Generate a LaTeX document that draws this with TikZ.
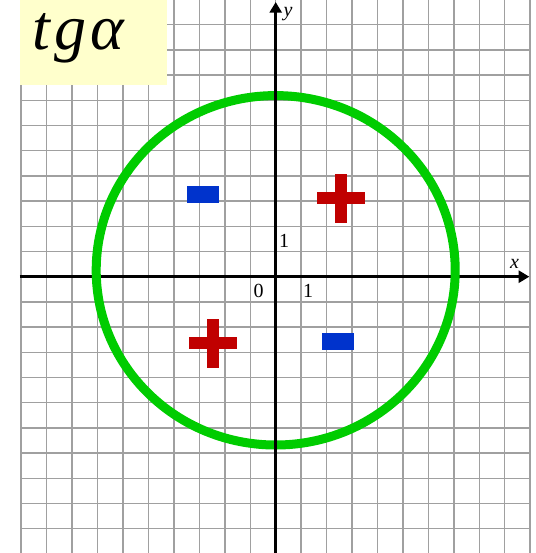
\documentclass[tikz,border=0pt]{standalone}
\usepackage{fontspec}
\setmainfont{Liberation Serif}
\usetikzlibrary{arrows.meta}
\usepackage{xcolor}
\definecolor{gridgray}{RGB}{160,160,160}
\definecolor{ringgreen}{RGB}{0,204,0}
\definecolor{plusred}{RGB}{192,0,0}
\definecolor{minusblue}{RGB}{0,51,204}
\definecolor{titlebg}{RGB}{255,255,204}
\tikzset{
  gridline/.style={gridgray,line width=1.1pt},
  plusbar/.style={fill=plusred,inner sep=0pt,minimum width=36pt,minimum height=9pt},
  plusstem/.style={fill=plusred,inner sep=0pt,minimum width=9pt,minimum height=36.3pt},
  minusbar/.style={fill=minusblue,inner sep=0pt,minimum width=24pt,minimum height=12.75pt},
  axlabel/.style={inner sep=0pt,font=\fontsize{15}{15}\selectfont}
}

\begin{document}
\begin{tikzpicture}[x=19.0875pt,y=18.9pt,>={Triangle[length=8pt,width=9pt]}]
\useasboundingbox (-10.833,-10.964) rectangle (10.189,10.98);
\foreach \i in {-10,...,10} \draw[gridline] (\i,-10.964) -- (\i,11);
\foreach \j in {-10,...,11} \draw[gridline] (-10,\j) -- (10,\j);
\fill[titlebg] (-10.047,7.607) rectangle (-4.271,11);
\node[anchor=base west,inner sep=0pt,font=\fontsize{48}{48}\selectfont\itshape] (tga) at (-9.576,8.996) {t\kern3pt g\kern3pt α};
\coordinate (xfrom) at (-10.05,0);
\coordinate (xto) at (9.965,0);
\coordinate (yfrom) at (0,-10.964);
\coordinate (yto) at (0,10.9);
\draw[->,line width=2.25pt] (xfrom) -- (xto);
\draw[ringgreen,line width=6.75pt] (0,0.254) ellipse [x radius=7.053,y radius=6.933];
\draw[->,line width=2.25pt] (yfrom) -- (yto);
\node[plusbar] (plusIh) at (2.566,3.111) {};
\node[plusstem] (plusIv) at (plusIh) {};
\node[plusbar] (plusIIIh) at (-2.475,-2.643) {};
\node[plusstem] (plusIIIv) at (plusIIIh) {};
\node[minusbar] (minusII) at (-2.857,3.262) {};
\node[minusbar] (minusIV) at (2.448,-2.571) {};
\node[axlabel] (ylab) at (0.483,10.425) {\textit{y}};
\node[axlabel] (xlab) at (9.383,0.524) {\textit{x}};
\node[axlabel] (oney) at (0.326,1.417) {1};
\node[axlabel] (zero) at (-0.676,-0.567) {0};
\node[axlabel] (onex) at (1.269,-0.548) {1};
\end{tikzpicture}
\end{document}
